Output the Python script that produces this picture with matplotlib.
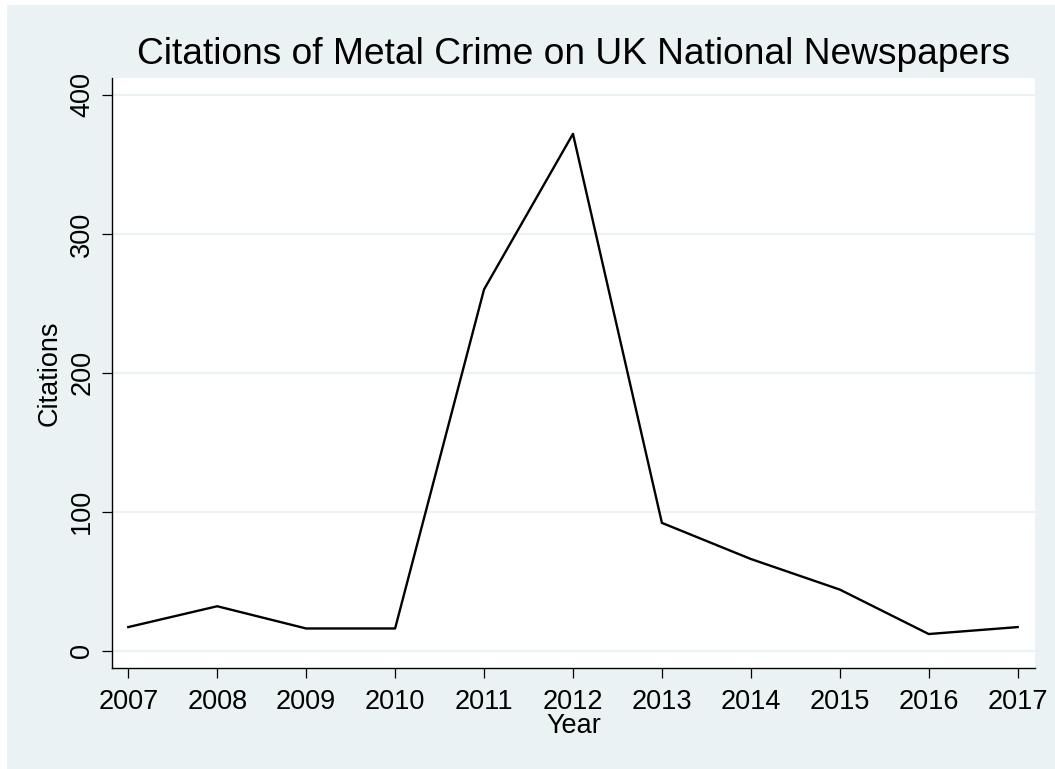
import matplotlib
matplotlib.use("Agg")
import matplotlib.pyplot as plt
from matplotlib.patches import Rectangle

years = [2007, 2008, 2009, 2010, 2011, 2012, 2013, 2014, 2015, 2016, 2017]
citations = [17, 32, 16, 16, 260, 372, 92, 66, 44, 12, 17]
y_ticks = [0, 100, 200, 300, 400]

plt.rcParams['font.family'] = ['Liberation Sans', 'DejaVu Sans']

W, H = 1055, 769
fig = plt.figure(figsize=(W / 100, H / 100), dpi=100, facecolor='white')
bg = '#eaf2f3'
fig.patches.append(Rectangle((7 / W, 0), 1 - 7 / W, 1 - 5 / H, transform=fig.transFigure,
                             facecolor=bg, edgecolor='none', zorder=-10))

ax = fig.add_axes([112 / W, 1 - 668 / H, (1035 - 112) / W, (668 - 78) / H])
ax.set_zorder(1)
ax.set_facecolor('white')
ax.plot(years, citations, color='black', linewidth=1.7, zorder=3)

ax.set_xlim(2006.817, 2017.195)
ax.set_ylim(-12.45, 412.2)
ax.set_xticks(years)
ax.set_yticks(y_ticks)
ax.set_yticklabels([str(v) for v in y_ticks], rotation=90, va='center')
for v in y_ticks:
    ax.axhline(v, color=bg, linewidth=1.6, zorder=1)

for s in ['top', 'right']:
    ax.spines[s].set_visible(False)
for s in ['left', 'bottom']:
    ax.spines[s].set_linewidth(1.0)
    ax.spines[s].set_color('black')
ax.tick_params(axis='both', length=7, width=0.9, labelsize=19.5, colors='black')
ax.tick_params(axis='x', pad=8)
ax.tick_params(axis='y', pad=5)

ax.set_xlabel('Year', fontsize=19.5, labelpad=-1)
ax.set_ylabel('Citations', fontsize=19.5, labelpad=5)
ax.set_title('Citations of Metal Crime on UK National Newspapers', fontsize=26.7, pad=10)

fig.savefig('out.png', dpi=100, facecolor='white')
